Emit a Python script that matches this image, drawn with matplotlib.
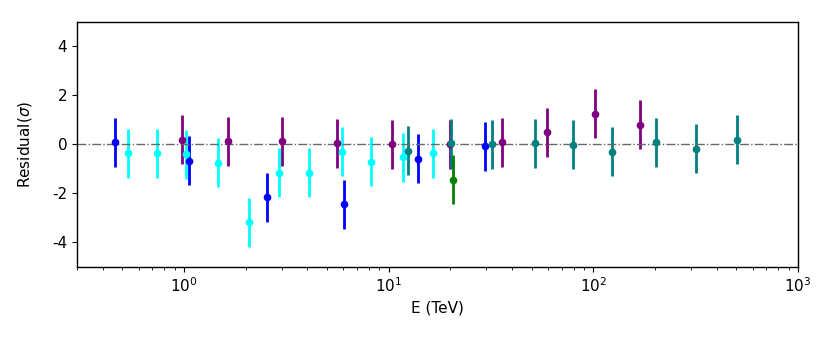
import numpy as np
import matplotlib.pyplot as plt

plt.rcParams['axes.unicode_minus'] = False

# residuals per instrument/dataset (E in TeV)
e_blue = [0.46, 1.06, 2.53, 6.03, 13.9, 29.7]
r_blue = [0.09, -0.67, -2.17, -2.45, -0.60, -0.08]
err_blue = [1.0, 1.0, 1.0, 1.0, 1.0, 1.0]

e_cyan = [0.53, 0.74, 1.02, 1.47, 2.07, 2.91, 4.10, 5.92, 8.15, 11.8, 16.5]
r_cyan = [-0.36, -0.37, -0.41, -0.76, -3.19, -1.17, -1.17, -0.31, -0.71, -0.54, -0.37]
err_cyan = [1.0, 1.0, 1.0, 1.0, 1.0, 1.0, 1.0, 1.0, 1.0, 1.0, 1.0]

e_purple = [0.98, 1.64, 3.01, 5.6, 10.4, 20.0, 35.6, 59.3, 101.7, 169.3]
r_purple = [0.19, 0.12, 0.12, 0.03, 0.0, 0.0, 0.09, 0.49, 1.24, 0.80]
err_purple = [1.0, 1.0, 1.0, 1.0, 1.0, 1.0, 1.0, 1.0, 1.0, 1.0]

e_teal = [12.45, 20.05, 31.8, 51.6, 79.7, 122.7, 201.9, 319.0, 501.0]
r_teal = [-0.27, 0.03, 0.0, 0.04, -0.03, -0.30, 0.07, -0.19, 0.19]
err_teal = [1.0, 1.0, 1.0, 1.0, 1.0, 1.0, 1.0, 1.0, 1.0]

e_green = [20.7]
r_green = [-1.46]
err_green = [1.0]

fig = plt.figure(figsize=(8.31, 3.45), dpi=100)
ax = fig.add_axes([0.0927, 0.227, 0.8676, 0.71])

sets = [
    (e_blue, r_blue, err_blue, 'blue'),
    (e_cyan, r_cyan, err_cyan, 'cyan'),
    (e_purple, r_purple, err_purple, 'purple'),
    (e_teal, r_teal, err_teal, 'teal'),
    (e_green, r_green, err_green, 'green'),
]
for e, r, err, c in sets:
    ax.errorbar(e, r, yerr=err, fmt='o', color=c, markersize=4.5,
                elinewidth=2, capsize=0)

ax.axhline(0, color='dimgray', linestyle='-.', linewidth=1)

ax.set_xscale('log')
ax.set_xlim(0.3, 1000)
ax.set_ylim(-5, 5)
ax.set_yticks([-4, -2, 0, 2, 4])
ax.set_xlabel('E (TeV)', fontsize=11)
ax.set_ylabel(r'Residual($\sigma$)', fontsize=11, labelpad=13)
ax.tick_params(labelsize=11)
for sp in ax.spines.values():
    sp.set_linewidth(1.0)

fig.savefig('out.png', dpi=100)
